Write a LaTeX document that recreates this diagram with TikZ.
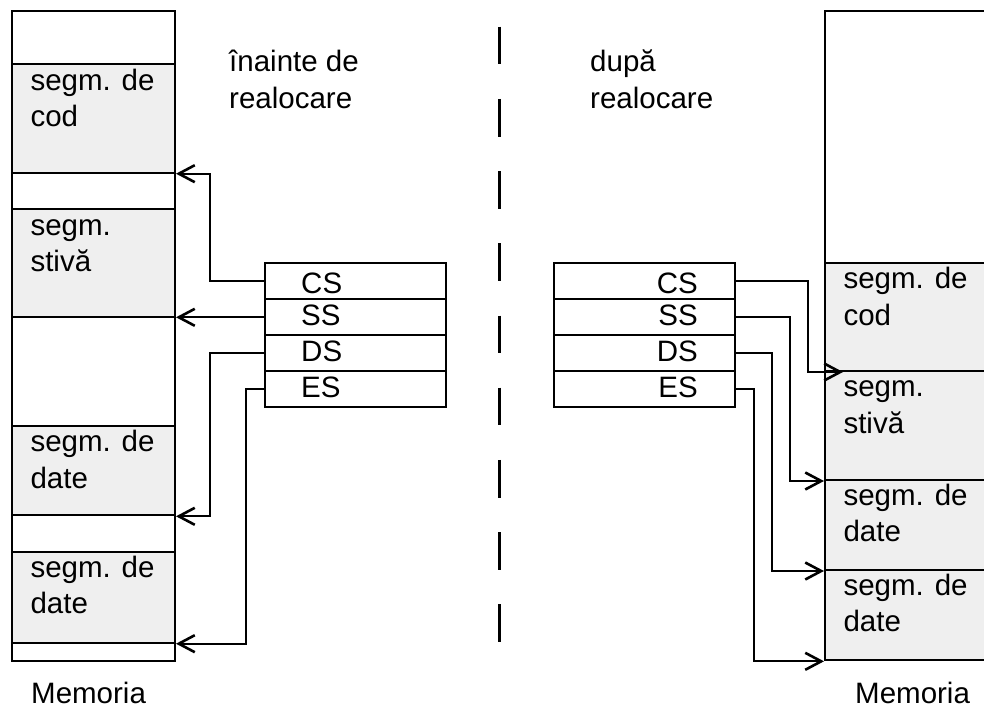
\documentclass[tikz,border=0pt]{standalone}
\usepackage{fontspec}
\setmainfont{Liberation Sans}
\usetikzlibrary{arrows.meta}
\definecolor{segfill}{RGB}{239,239,239}
\begin{document}
\begin{tikzpicture}[x=1pt,y=-1pt,
  mem/.style={draw, line width=2pt, rectangle, inner sep=0pt, anchor=north west},
  seg/.style={mem, fill=segfill},
  reg/.style={mem, minimum width=181pt, minimum height=36pt},
  txt/.style={font=\fontsize{29.5}{36}\selectfont, inner sep=0pt, anchor=base west},
  rtxt/.style={txt, anchor=base east},
  link/.style={line width=1.9pt, -{Straight Barb[length=16pt,width=17pt,line width=2.6pt]}},
]
\useasboundingbox (0,0) rectangle (984,709);
\clip (0,0) rectangle (984,709);

% ---------- memory before relocation ----------
\node[mem, minimum width=163pt, minimum height=650pt] (memL) at (11,10) {};
\node[seg, minimum width=163pt, minimum height=109pt]  (codL)   at (11,62.7)  {};
\node[seg, minimum width=163pt, minimum height=108pt]  (stackL) at (11,208)   {};
\node[seg, minimum width=163pt, minimum height=89.3pt] (dataLa) at (11,425)   {};
\node[seg, minimum width=163pt, minimum height=91pt]   (dataLb) at (11,550.7) {};

\node[txt] (tcodL1)  at (30.3,90)    {segm. de};
\node[txt] (tcodL2)  at (30.3,126.7) {cod};
\node[txt] (tstkL1)  at (30.3,235)   {segm.};
\node[txt] (tstkL2)  at (30.3,271.7) {stivă};
\node[txt] (tdaL1)   at (30.3,451.7) {segm. de};
\node[txt] (tdaL2)   at (30.3,488.3) {date};
\node[txt] (tdbL1)   at (30.3,577)   {segm. de};
\node[txt] (tdbL2)   at (30.3,613.7) {date};
\node[txt] (memLtxt) at (31,703.5)   {Memoria};

% ---------- memory after relocation ----------
\node[mem, minimum width=200pt, minimum height=649.3pt] (memR) at (824,10) {};
\node[seg, minimum width=200pt, minimum height=107.7pt] (codR)   at (824,262.3) {};
\node[seg, minimum width=200pt, minimum height=109pt]   (stackR) at (824,370)   {};
\node[seg, minimum width=200pt, minimum height=90pt]    (dataRa) at (824,479)   {};
\node[seg, minimum width=200pt, minimum height=90.3pt]  (dataRb) at (824,569)   {};

\node[txt] (tcodR1)  at (843.3,288.3) {segm. de};
\node[txt] (tcodR2)  at (843.3,325)   {cod};
\node[txt] (tstkR1)  at (843.3,396.7) {segm.};
\node[txt] (tstkR2)  at (843.3,433.3) {stivă};
\node[txt] (tdaR1)   at (843.3,505)   {segm. de};
\node[txt] (tdaR2)   at (843.3,541.7) {date};
\node[txt] (tdbR1)   at (843.3,595)   {segm. de};
\node[txt] (tdbR2)   at (843.3,631.7) {date};
\node[txt] (memRtxt) at (855,703.5)   {Memoria};

% ---------- headings ----------
\node[txt] (hbef1) at (229,71.7)  {înainte de};
\node[txt] (hbef2) at (229,108.3) {realocare};
\node[txt] (haft1) at (590,71.7)  {după};
\node[txt] (haft2) at (590,108.3) {realocare};

% ---------- separator ----------
\draw[line width=2.2pt, dash pattern=on 37.7pt off 34.5pt] (499.5,26.7) -- (499.5,642.3);

% ---------- segment registers ----------
\node[reg] (csL) at (264,262.3) {};
\node[reg] (ssL) at (264,298.3) {};
\node[reg] (dsL) at (264,334.3) {};
\node[reg] (esL) at (264,370.3) {};
\node[txt] (tcsL) at (301,293)   {CS};
\node[txt] (tssL) at (301,325.5) {SS};
\node[txt] (tdsL) at (301,361.5) {DS};
\node[txt] (tesL) at (301,397)   {ES};

\node[reg] (csR) at (553.3,262.3) {};
\node[reg] (ssR) at (553.3,298.3) {};
\node[reg] (dsR) at (553.3,334.3) {};
\node[reg] (esR) at (553.3,370.3) {};
\node[rtxt] (tcsR) at (698,293)   {CS};
\node[rtxt] (tssR) at (698,325.5) {SS};
\node[rtxt] (tdsR) at (698,361.5) {DS};
\node[rtxt] (tesR) at (698,397)   {ES};

% ---------- register pointers, before ----------
\draw[link] (csL.west) -- ++(-54,0) |- (codL.south east);
\draw[link] (ssL.west) -- (ssL.west -| memL.east);
\draw[link] (dsL.west) -- ++(-54,0) |- (dataLa.south east);
\draw[link] (esL.west) -- ++(-18,0) |- (dataLb.south east);

% ---------- register pointers, after ----------
\draw[link] (csR.east) -- ++(72,0) |- ([xshift=19pt]codR.south west);
\draw[link] (ssR.east) -- ++(54,0) |- (stackR.south west);
\draw[link] (dsR.east) -- ++(36,0) |- (dataRa.south west);
\draw[link] (esR.east) -- ++(18,0) |- (dataRb.south west);
\end{tikzpicture}
\end{document}
